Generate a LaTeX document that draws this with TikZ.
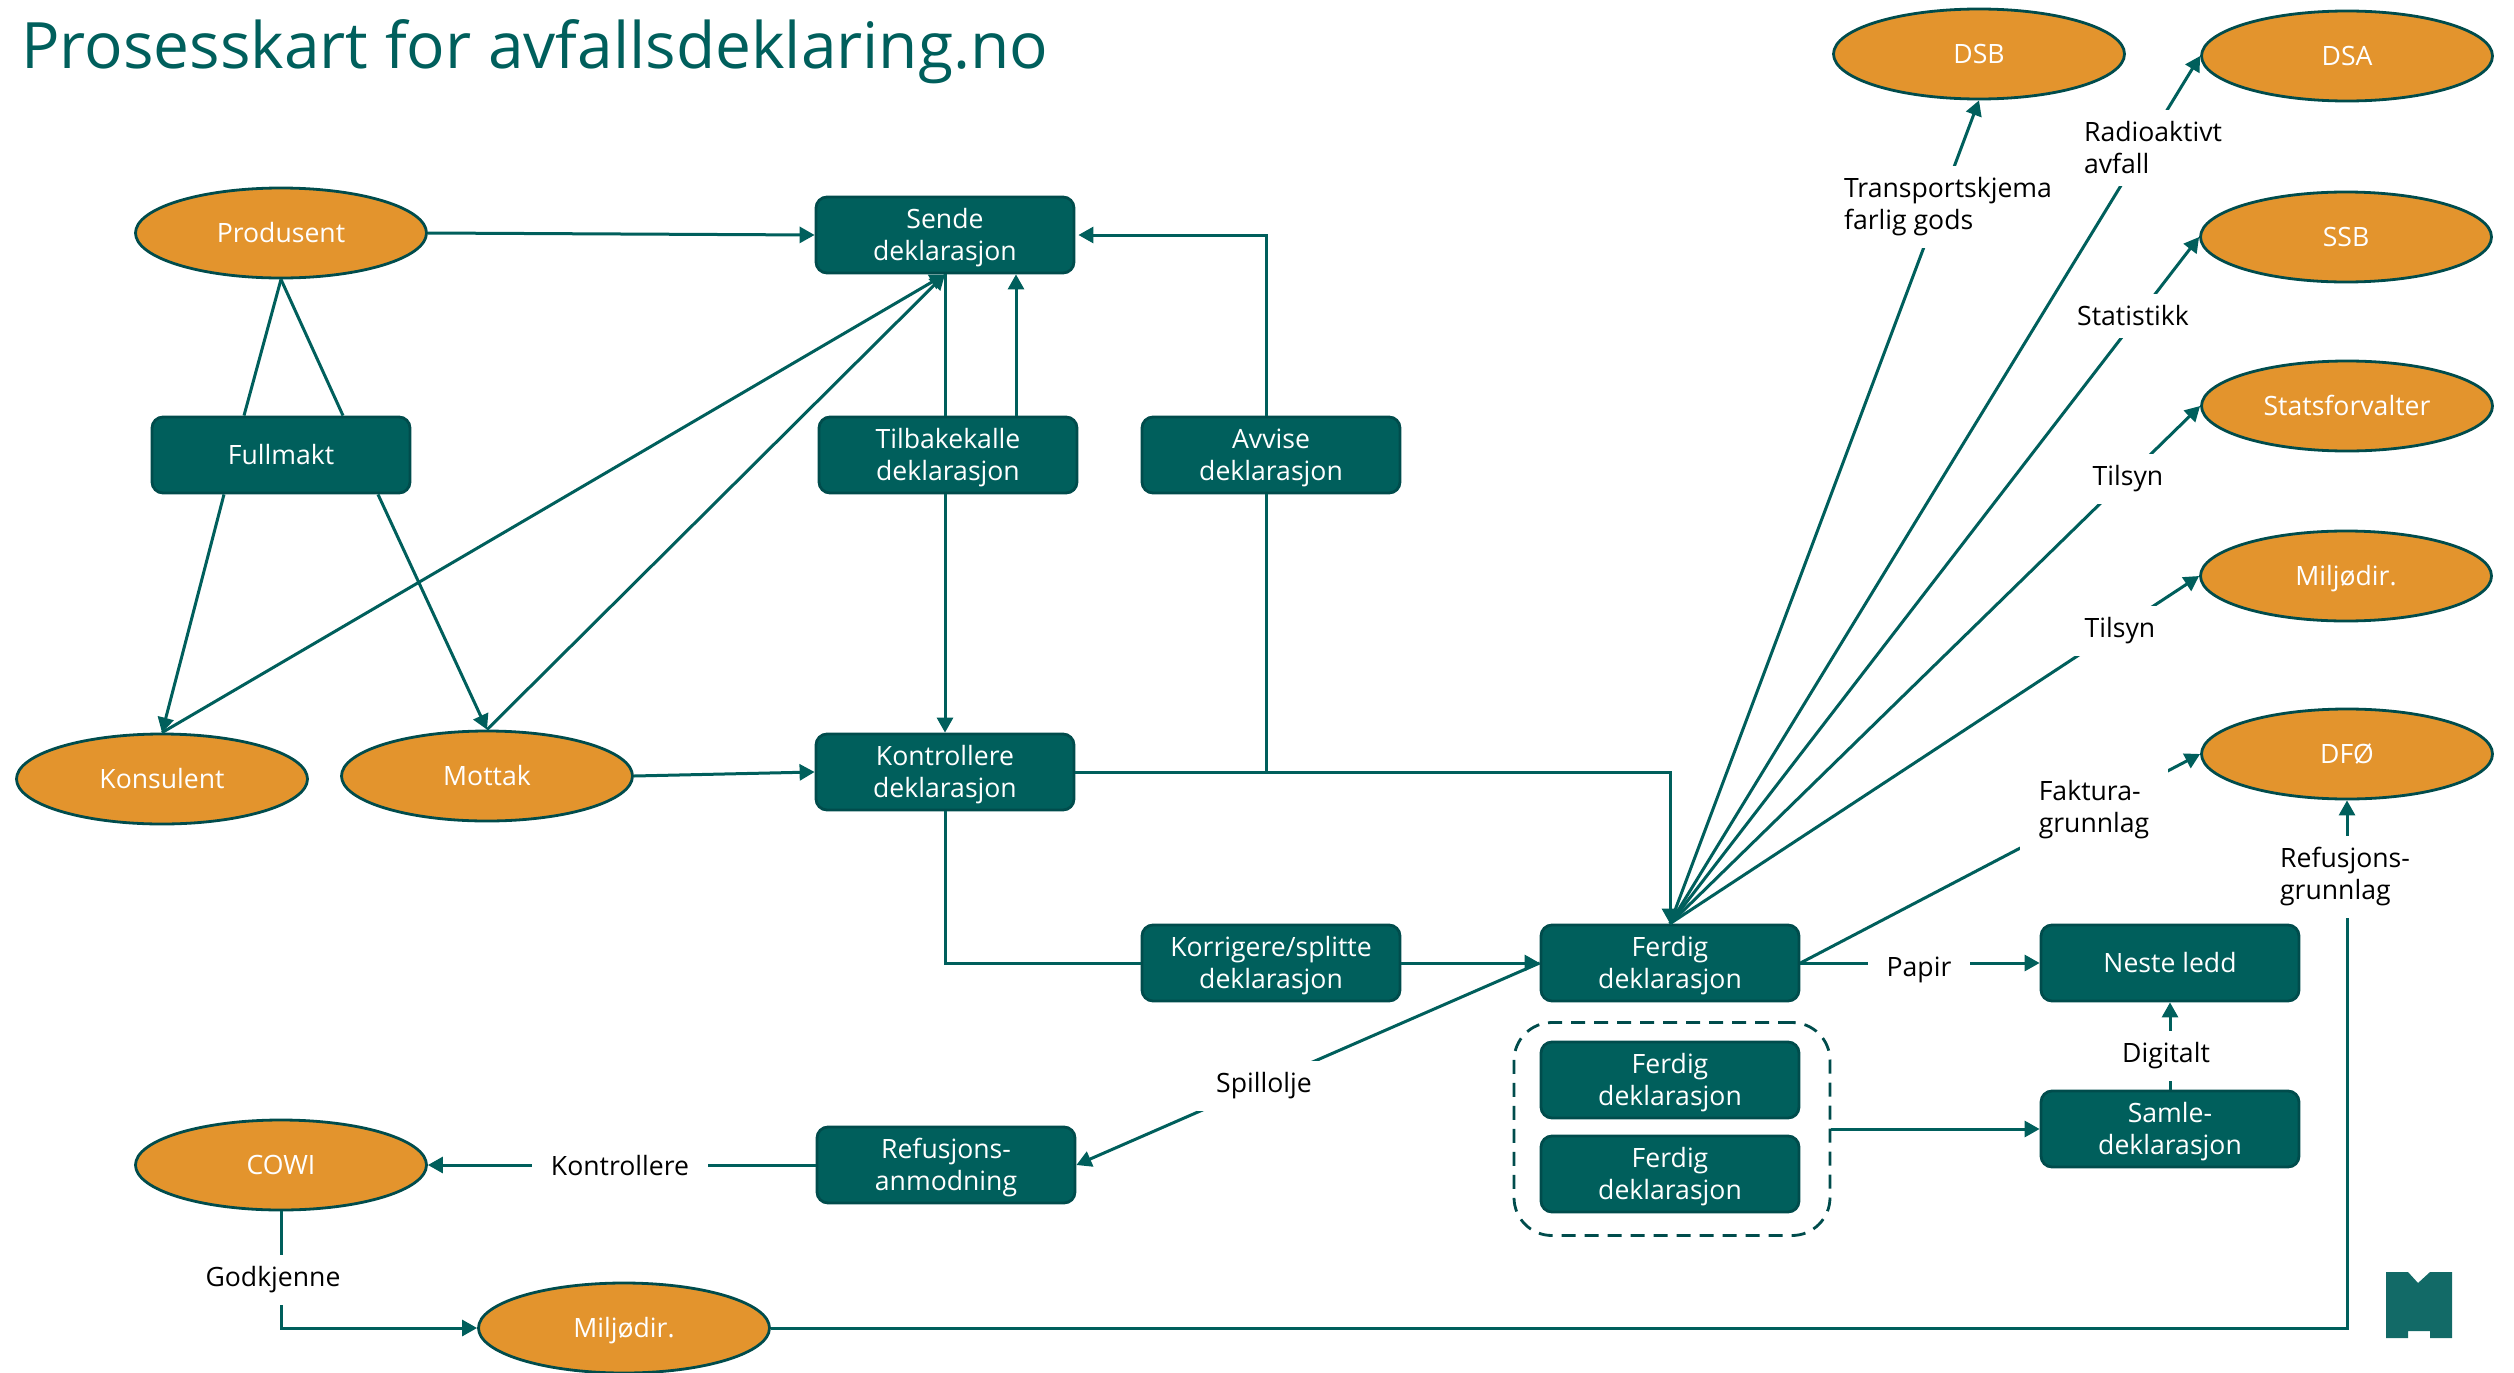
\documentclass[tikz,border=0pt]{standalone}
\usepackage{fontspec}
\setmainfont{Open Sans}
\usetikzlibrary{arrows.meta,shapes.geometric,positioning}
\definecolor{teal}{HTML}{005F5C}
\definecolor{tealdark}{HTML}{004C4C}
\definecolor{orangefill}{HTML}{E3942D}
\newcommand{\topgap}{\rule{0pt}{25pt}}
\tikzset{
  boxnode/.style={draw=tealdark,line width=2.8pt,fill=teal,rounded corners=11pt,minimum width=258pt,minimum height=76pt,inner sep=0pt,text=white,align=center,font=\fontsize{26.6}{32}\selectfont},
  ovalnode/.style={ellipse,draw=tealdark,line width=2.8pt,fill=orangefill,minimum width=291pt,minimum height=90pt,inner sep=0pt,text=white,text height=18.5pt,text depth=0pt,font=\fontsize{26.6}{32}\selectfont},
  lbl/.style={fill=white,inner xsep=19pt,inner ysep=12pt,text=black,align=left,font=\fontsize{26.6}{32}\selectfont},
  conn/.style={draw=teal,line width=3pt},
  arr/.style={conn,-{Triangle[length=15pt,width=16pt]}}
}
\begin{document}
\begin{tikzpicture}[x=1pt,y=-1pt]
\useasboundingbox (0,0) rectangle (2514,1373);
% title
\node[anchor=west,text=teal,inner sep=0pt,font=\fontsize{64}{70}\selectfont] (title) at (21,52) {Prosesskart for avfallsdeklaring.no};
% boxes
\node[boxnode] (sende) at (945,235) {\topgap Sende\\deklarasjon};
\node[boxnode] (fullmakt) at (281,455) {Fullmakt};
\node[boxnode] (tilbake) at (948,455) {\topgap Tilbakekalle\\deklarasjon};
\node[boxnode] (avvise) at (1271,455) {\topgap Avvise\\deklarasjon};
\node[boxnode] (kontroll) at (945,772) {\topgap Kontrollere\\deklarasjon};
\node[boxnode] (korriger) at (1271,963) {\topgap Korrigere/splitte\\deklarasjon};
\node[boxnode] (ferdig) at (1670,963) {\topgap Ferdig\\deklarasjon};
\node[boxnode] (ferdigb) at (1670,1080) {\topgap Ferdig\\deklarasjon};
\node[boxnode] (ferdigc) at (1670,1174) {\topgap Ferdig\\deklarasjon};
\node[boxnode] (neste) at (2170,963) {Neste ledd};
\node[boxnode] (samle) at (2170,1129) {\topgap Samle-\\deklarasjon};
\node[boxnode] (refusjon) at (946,1165) {\topgap Refusjons-\\anmodning};
% group
\node[draw=tealdark,line width=2.8pt,dash pattern=on 14pt off 9pt,rounded corners=38pt,minimum width=316pt,minimum height=213pt,inner sep=0pt] (gruppe) at (1672,1129) {};
% ellipses
\node[ovalnode] (dsb) at (1979,54) {DSB};
\node[ovalnode] (dsa) at (2347,56) {DSA};
\node[ovalnode] (ssb) at (2346,237) {SSB};
\node[ovalnode] (stats) at (2347,406) {Statsforvalter};
\node[ovalnode] (milj) at (2346,576) {Miljødir.};
\node[ovalnode] (dfo) at (2347,754) {DFØ};
\node[ovalnode] (produsent) at (281,233) {Produsent};
\node[ovalnode] (konsulent) at (162,779) {Konsulent};
\node[ovalnode] (mottak) at (487,776) {Mottak};
\node[ovalnode] (cowi) at (281,1165) {COWI};
\node[ovalnode] (miljb) at (624,1328) {Miljødir.};
% connectors left
\draw[arr] (produsent.east) -- (sende.west);
\draw[conn] (produsent.south) -- ([xshift=-37pt]fullmakt.north);
\draw[conn] (produsent.south) -- ([xshift=62pt]fullmakt.north);
\draw[arr] ([xshift=-57pt]fullmakt.south) -- (konsulent.north);
\draw[arr] ([xshift=97pt]fullmakt.south) -- (mottak.north);
\draw[arr] (konsulent.north) -- (sende.south);
\draw[arr] (mottak.north) -- (sende.south);
\draw[conn] (sende.south) -- (sende.south |- tilbake.north);
\draw[arr] (sende.south |- tilbake.south) -- (kontroll.north);
\draw[arr] ([xshift=71pt]sende.south |- tilbake.north) -- ([xshift=71pt]sende.south);
\draw[conn] ([xshift=-5pt]avvise.south) -- ([xshift=-5pt]avvise.south |- kontroll.east);
\draw[arr] ([xshift=-5pt]avvise.north) -- ([xshift=-5pt]avvise.north |- sende.east) -- ([xshift=3pt]sende.east);
\draw[arr] (mottak.east) -- (kontroll.west);
\draw[arr] (kontroll.east) -- (1670,772) -- (ferdig.north);
\draw[conn] (kontroll.south) |- (korriger.west);
\draw[arr] (korriger.east) -- (ferdig.west);
% fan
\draw[arr] (ferdig.north) -- (dsb.south);
\draw[arr] (ferdig.north) -- (dsa.west);
\draw[arr] (ferdig.north) -- (ssb.west);
\draw[arr] (ferdig.north) -- (stats.west);
\draw[arr] (ferdig.north) -- (milj.west);
\draw[arr] (ferdig.east) -- (dfo.west);
\draw[arr] (ferdig.east) -- (neste.west);
\draw[arr] (samle.north) -- (neste.south);
\draw[arr] (gruppe.east) -- (samle.west);
\draw[arr] (ferdig.west) -- (refusjon.east);
\draw[arr] (refusjon.west) -- (cowi.east);
\draw[arr] (cowi.south) |- (miljb.west);
\draw[arr] (miljb.east) -| (dfo.south);
% labels
\node[lbl] (l1) at (1948,207) {Transportskjema\\farlig gods};
\node[lbl] (l2) at (2153,148) {Radioaktivt\\avfall};
\node[lbl] (l3) at (2133,316) {Statistikk};
\node[lbl] (l4) at (2128,479) {Tilsyn};
\node[lbl] (l5) at (2120,631) {Tilsyn};
\node[lbl] (l6) at (2094,810) {Faktura-\\grunnlag};
\node[lbl] (l7) at (1919,970) {Papir};
\node[lbl] (l8) at (2166,1056) {Digitalt};
\node[lbl] (l9) at (1264,1086) {Spillolje};
\node[lbl] (l10) at (620,1166) {Kontrollere};
\node[lbl] (l11) at (273,1280) {Godkjenne};
\node[lbl] (l12) at (2345,877) {Refusjons-\\grunnlag};
% logo
\fill[fill=teal!93!white] (2386,1272) -- (2408,1272) -- (2418,1283) -- (2430,1272) -- (2452,1272) -- (2452,1338) -- (2430,1338) -- (2430,1331) -- (2408,1331) -- (2408,1338) -- (2386,1338) -- cycle;
\end{tikzpicture}
\end{document}
